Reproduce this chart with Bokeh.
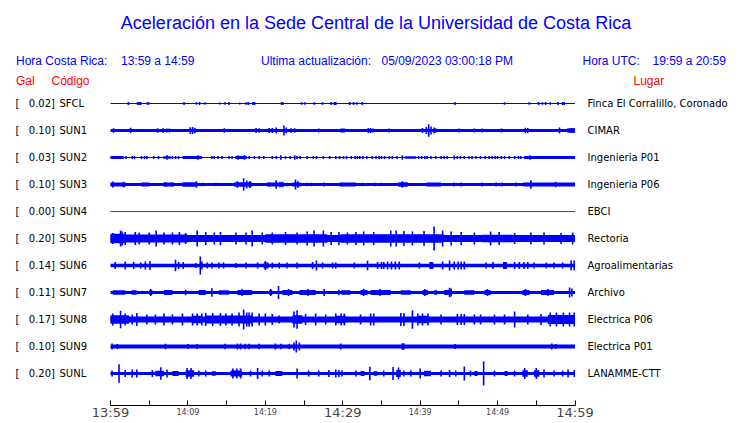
from bokeh.plotting import figure
from bokeh.models import Range1d, LinearAxis, FixedTicker, ColumnDataSource
from bokeh.core.properties import value
from bokeh.embed import file_html
from bokeh.resources import INLINE

# ------------------------------------------------------------------ data
codes = ["SFCL", "SUN1", "SUN2", "SUN3", "SUN4", "SUN5", "SUN6", "SUN7", "SUN8", "SUN9", "SUNL"]
places = ["Finca El Corralillo, Coronado", "CIMAR", "Ingenieria P01", "Ingenieria P06", "EBCI",
          "Rectoria", "Agroalimentarias", "Archivo", "Electrica P06", "Electrica P01", "LANAMME-CTT"]
gal_max = ["0.02", "0.10", "0.03", "0.10", "0.00", "0.20", "0.14", "0.11", "0.17", "0.10", "0.20"]

# minutes after 13:59 (local time)
tick_minutes = [0, 5, 10, 15, 20, 25, 30, 35, 40, 45, 50, 55, 60]
big_labels = {0: "13:59", 30: "14:29", 60: "14:59"}
small_labels = {10: "14:09", 20: "14:19", 40: "14:39", 50: "14:49"}

# relative amplitude of the continuous background noise of each trace
base_amp = [0.5, 1.6, 0.6, 1.4, 0.0, 3.5, 1.8, 1.5, 3.0, 2.0, 1.5]

# bursts: (start minute, end minute, half amplitude)
sfcl_bands = []
sun1_bands = [(29.7, 30.3, 2.0), (59.0, 60.0, 2.2)]
sun2_bands = [(0.0, 1.7, 1.4), (6.8, 7.8, 1.3), (9.3, 11.8, 1.4), (16.1, 17.6, 1.4), (38.0, 39.5, 1.3),
              (53.4, 60.0, 1.5)]
sun3_bands = [(0.0, 2.0, 2.0), (4.0, 5.0, 1.9), (6.8, 8.2, 1.9), (9.3, 11.2, 2.2), (16.0, 18.3, 2.2),
              (20.2, 22.4, 1.9), (23.5, 24.6, 2.0), (29.7, 31.7, 1.9), (37.2, 38.4, 2.2), (40.8, 42.7, 1.9),
              (53.3, 60.0, 2.0)]
sun4_bands = []
sun5_bands = [(0.0, 1.8, 4.8), (1.8, 10.0, 4.0), (20.0, 28.0, 4.2), (29.7, 43.0, 4.3), (48.0, 52.0, 3.8)]
sun6_bands = [(19.8, 20.4, 3.0), (41.2, 41.7, 3.5), (50.7, 51.2, 3.5)]
sun7_bands = [(0.3, 1.9, 2.3), (2.7, 3.4, 2.3), (5.0, 5.4, 2.5), (6.9, 8.0, 2.5), (11.4, 12.3, 2.5),
              (14.0, 15.3, 2.2), (16.4, 18.3, 2.5), (20.5, 20.9, 2.5), (22.2, 23.5, 2.5), (24.4, 26.5, 2.5),
              (29.8, 31.0, 2.3), (32.3, 33.2, 2.5), (33.6, 36.2, 2.5), (37.5, 38.8, 2.2), (40.3, 41.0, 2.5),
              (41.8, 42.2, 2.2), (43.1, 44.0, 2.5), (45.7, 47.0, 2.2), (48.3, 49.1, 2.5), (53.2, 54.1, 2.5),
              (55.6, 57.3, 2.5)]
sun8_bands = [(0.0, 2.4, 4.3), (10.6, 11.8, 3.8), (12.3, 18.3, 4.0), (23.5, 24.8, 4.3), (29.1, 30.4, 3.8),
              (39.7, 41.0, 3.8), (56.5, 60.0, 4.5)]
sun9_bands = []
sunl_bands = [(5.8, 6.9, 2.8), (8.0, 8.8, 2.4), (9.7, 10.8, 3.2), (13.1, 13.6, 2.3), (15.5, 17.0, 3.0),
              (21.3, 22.2, 2.4), (32.3, 32.8, 2.4), (34.0, 34.5, 2.3), (36.9, 37.5, 3.5), (40.5, 41.4, 2.8),
              (47.0, 47.4, 2.4), (50.9, 51.3, 2.4), (53.2, 53.9, 3.2), (54.7, 55.4, 3.2)]

# individual peaks: (minute, half amplitude)
sfcl_spikes = [(2.3, 1.5), (3.5, 1.5), (3.7, 1.5), (3.9, 1.5), (4.75, 1.2), (4.95, 1.2), (9.5, 1.5), (11.1, 1.2),
               (11.5, 1.5), (12.2, 1.2), (14.1, 1.0), (14.8, 1.2), (15.3, 1.5), (16.7, 1.0), (17.5, 1.2),
               (17.8, 1.5), (18.4, 1.5), (18.6, 1.5), (22.1, 1.5), (22.3, 1.2), (24.7, 1.2), (25.1, 1.2),
               (26.3, 1.2), (27.4, 1.2), (28.5, 1.5), (28.9, 1.5), (29.1, 1.5), (30.9, 1.5), (31.4, 1.5),
               (31.8, 1.2), (32.5, 1.5), (44.5, 1.5), (50.9, 1.2), (54.1, 1.2), (55.3, 1.5), (55.8, 1.2),
               (56.2, 1.5), (56.8, 1.2), (57.8, 1.5), (58.4, 1.5), (58.6, 1.5)]
sun1_spikes = [(0.4, 2.2), (2.6, 2.8), (6.1, 2.2), (6.8, 2.2), (7.3, 2.0), (7.6, 2.0), (10.3, 3.2), (10.6, 3.5),
               (10.9, 2.8), (14.7, 2.2), (18.8, 2.5), (19.2, 2.3), (20.5, 2.5), (20.9, 2.4), (21.4, 3.0),
               (22.4, 5.0), (22.7, 3.0), (23.3, 2.2), (23.8, 2.2), (26.9, 2.0), (33.3, 2.5), (33.6, 2.5),
               (33.9, 2.0), (36.0, 2.0), (40.3, 2.5), (40.8, 3.5), (41.1, 6.3), (41.4, 4.0), (41.8, 3.0),
               (42.0, 2.2), (45.0, 1.9), (47.0, 1.9), (48.0, 1.9), (50.5, 1.9), (53.6, 2.8), (53.9, 2.5),
               (58.0, 3.0), (59.5, 2.2), (59.8, 2.5)]
sun2_spikes = [(2.0, 1.4), (2.8, 1.4), (3.1, 1.4), (4.0, 1.4), (4.4, 1.4), (4.7, 1.4), (5.6, 1.4), (6.2, 1.4),
               (7.3, 2.3), (8.0, 1.4), (8.4, 1.4), (8.8, 1.4), (11.3, 2.3), (13.1, 1.4), (13.4, 1.4), (13.9, 1.4),
               (14.4, 1.4), (15.3, 1.4), (15.7, 1.4), (16.5, 2.3), (17.3, 2.3), (17.9, 1.4), (18.6, 1.4),
               (19.2, 1.4), (19.8, 1.4), (20.9, 1.4), (21.4, 1.4), (22.0, 2.3), (22.6, 1.4), (23.2, 1.4),
               (23.8, 2.3), (24.1, 1.4), (24.5, 1.4), (25.4, 1.4), (26.2, 1.4), (26.6, 1.4), (27.5, 1.4),
               (28.3, 1.4), (29.1, 1.4), (29.6, 1.4), (30.1, 1.4), (30.5, 1.4), (31.1, 1.4), (31.6, 1.4),
               (31.9, 1.4), (32.2, 1.4), (32.6, 1.4), (33.1, 1.4), (33.8, 1.4), (34.3, 1.4), (34.7, 1.4),
               (35.0, 1.4), (35.4, 1.4), (36.0, 1.4), (36.4, 1.4), (37.0, 1.4), (37.7, 2.3), (39.8, 1.4),
               (40.2, 1.4), (40.6, 1.4), (40.9, 1.4), (41.4, 1.4), (42.0, 1.4), (42.7, 1.4), (43.1, 1.4),
               (43.5, 1.4), (44.4, 2.0), (44.8, 1.4), (45.2, 1.4), (45.7, 1.4), (46.3, 1.4), (46.7, 1.4),
               (47.2, 1.4), (47.8, 1.4), (48.4, 1.4), (48.9, 1.4), (49.3, 1.4), (49.7, 1.4), (50.0, 1.4),
               (50.5, 1.4), (50.9, 1.4), (51.5, 1.4), (52.2, 1.4), (52.7, 1.4), (53.0, 1.4), (54.2, 2.2)]
sun3_spikes = [(0.3, 3.0), (1.7, 2.7), (7.1, 2.3), (8.0, 2.0), (11.1, 3.3), (11.9, 1.8), (13.6, 1.8), (16.4, 3.3),
               (17.2, 6.3), (17.6, 4.0), (18.0, 3.5), (20.5, 2.0), (21.4, 4.3), (21.9, 2.7), (22.2, 2.7),
               (22.8, 1.8), (23.9, 5.0), (24.2, 3.3), (25.4, 1.8), (25.9, 1.8), (27.6, 2.0), (29.7, 2.0),
               (32.5, 1.8), (34.2, 1.8), (35.0, 1.8), (37.7, 3.3), (44.4, 2.0), (45.3, 1.9), (48.0, 1.9),
               (49.8, 1.9), (50.6, 1.9), (52.4, 1.9), (54.3, 4.3), (57.5, 2.7)]
sun4_spikes = []
sun5_spikes = [(0.3, 5.5), (1.3, 8.0), (1.5, 7.0), (1.9, 6.5), (3.2, 6.5), (3.7, 6.0), (5.0, 6.0), (5.9, 8.0),
               (6.9, 6.0), (8.0, 6.0), (8.9, 6.5), (9.7, 5.5), (11.2, 8.0), (12.3, 6.5), (13.4, 6.0), (14.2, 6.5),
               (16.2, 6.0), (17.5, 6.0), (18.3, 8.0), (19.6, 6.0), (20.9, 6.0), (22.6, 6.5), (24.1, 6.0),
               (25.4, 7.0), (26.3, 8.0), (27.5, 8.0), (28.5, 6.5), (29.5, 6.5), (30.6, 6.0), (31.7, 6.5),
               (32.7, 7.0), (34.0, 6.5), (36.2, 8.0), (36.9, 8.0), (37.9, 7.5), (39.0, 7.0), (40.5, 7.5),
               (41.8, 12.0), (42.9, 8.0), (44.0, 7.0), (45.3, 6.5), (47.0, 6.0), (49.1, 7.0), (50.2, 6.5),
               (52.2, 5.5), (54.3, 6.0), (56.0, 6.0), (58.2, 5.5), (59.7, 6.0)]
sun6_spikes = [(0.6, 3.5), (1.9, 4.0), (3.0, 3.5), (3.9, 3.0), (4.5, 4.0), (5.1, 4.5), (8.4, 5.7), (8.8, 3.5),
               (9.4, 3.5), (11.0, 2.5), (11.6, 9.0), (11.8, 4.0), (12.5, 3.0), (13.1, 3.0), (14.0, 3.0),
               (14.6, 3.0), (16.2, 2.5), (17.5, 3.0), (19.0, 3.0), (20.0, 4.5), (20.9, 3.0), (21.8, 3.0),
               (22.8, 3.0), (24.1, 3.0), (26.1, 3.5), (26.6, 5.0), (27.4, 3.0), (28.7, 3.0), (29.1, 3.0),
               (31.5, 3.0), (33.2, 4.7), (34.5, 3.5), (35.0, 3.5), (35.3, 3.5), (35.8, 4.0), (36.3, 4.0),
               (36.8, 4.0), (37.3, 4.0), (39.9, 3.0), (42.9, 4.0), (43.8, 5.0), (44.4, 4.0), (44.9, 4.0),
               (45.3, 4.0), (45.7, 4.0), (48.5, 3.0), (49.4, 3.5), (52.2, 3.5), (52.8, 3.5), (53.4, 3.5),
               (53.9, 3.5), (54.7, 3.0), (56.3, 3.0), (57.3, 3.0), (58.4, 3.0), (59.5, 5.0), (59.9, 5.0)]
sun7_spikes = [(5.2, 3.5), (9.7, 2.7), (13.1, 4.3), (17.0, 3.5), (20.7, 3.5), (21.7, 6.5), (23.0, 3.5),
               (25.5, 3.5), (27.6, 3.5), (29.5, 2.7), (32.7, 3.5), (34.8, 3.5), (40.6, 3.5), (43.8, 4.7),
               (44.0, 4.0), (48.7, 3.5), (53.6, 3.5), (56.5, 3.5), (59.3, 5.0), (59.6, 4.0)]
sun8_spikes = [(0.3, 6.0), (1.3, 8.7), (1.9, 6.0), (2.8, 5.0), (3.4, 6.5), (4.7, 5.0), (5.8, 5.0), (6.9, 6.0),
               (8.0, 5.0), (9.3, 6.0), (10.6, 6.0), (11.2, 6.0), (11.8, 6.0), (12.3, 6.5), (13.2, 6.5),
               (14.2, 6.5), (14.9, 6.0), (15.7, 6.0), (16.6, 7.0), (17.2, 10.0), (17.6, 7.0), (17.9, 7.0),
               (18.3, 7.0), (19.2, 6.0), (20.0, 6.0), (20.9, 5.5), (21.8, 4.0), (23.7, 8.0), (24.1, 9.3),
               (25.2, 5.5), (26.5, 6.0), (27.8, 5.0), (29.1, 6.0), (29.8, 6.0), (30.2, 6.0), (32.3, 5.0),
               (33.6, 6.0), (34.0, 6.0), (37.5, 6.5), (37.9, 6.5), (39.0, 9.3), (39.7, 6.0), (40.3, 6.0),
               (41.0, 6.0), (42.7, 5.0), (44.8, 5.5), (45.3, 5.5), (45.7, 5.5), (47.0, 5.0), (47.8, 5.0),
               (49.6, 5.0), (50.9, 5.0), (52.2, 8.0), (53.9, 5.0), (55.6, 5.5), (56.8, 7.0), (57.6, 7.0),
               (58.5, 7.0), (59.3, 7.0), (59.9, 7.0)]
sun9_spikes = [(0.2, 3.0), (0.9, 2.5), (7.1, 2.8), (10.0, 2.5), (11.2, 2.5), (14.8, 2.8), (16.4, 3.0), (16.8, 3.0),
               (17.4, 2.8), (17.9, 2.8), (19.2, 2.8), (21.3, 3.0), (22.0, 2.8), (23.1, 2.8), (23.7, 4.0),
               (24.0, 6.0), (24.4, 4.0), (29.75, 3.0), (37.7, 3.2), (37.9, 3.2), (44.5, 2.5), (57.0, 3.0),
               (57.5, 2.5)]
sunl_spikes = [(0.2, 3.0), (1.1, 9.3), (1.9, 3.5), (2.8, 4.0), (3.4, 4.0), (5.4, 3.5), (6.5, 6.3), (7.3, 4.0),
               (9.9, 5.5), (10.4, 5.5), (11.4, 3.0), (12.3, 3.0), (15.8, 5.0), (16.3, 5.0), (16.8, 5.0),
               (18.1, 3.0), (19.0, 5.5), (19.6, 3.0), (20.5, 3.0), (24.1, 5.0), (25.6, 3.0), (26.9, 3.0),
               (28.2, 3.5), (29.1, 4.0), (29.5, 3.5), (29.9, 3.0), (31.7, 3.0), (33.5, 6.7), (35.3, 3.0),
               (36.5, 6.5), (37.2, 6.0), (37.9, 3.0), (38.8, 3.0), (40.0, 5.0), (42.7, 3.0), (43.8, 3.5),
               (44.6, 3.0), (45.7, 7.0), (46.5, 3.0), (48.2, 12.0), (49.6, 3.0), (52.2, 3.0), (53.5, 5.5),
               (55.0, 5.5), (56.0, 4.0), (57.3, 3.0), (58.4, 3.0), (59.1, 4.0), (59.9, 3.5)]

bands_all = [sfcl_bands, sun1_bands, sun2_bands, sun3_bands, sun4_bands, sun5_bands,
             sun6_bands, sun7_bands, sun8_bands, sun9_bands, sunl_bands]
spikes_all = [sfcl_spikes, sun1_spikes, sun2_spikes, sun3_spikes, sun4_spikes, sun5_spikes,
              sun6_spikes, sun7_spikes, sun8_spikes, sun9_spikes, sunl_spikes]

# ------------------------------------------------------------------ layout / style
W, H = 740, 423
BOTTOM = 18
FRAME_H = H - BOTTOM
PX_T0, PX_T1 = 110.0, 574.5          # pixel of first / last minute
T0, T1 = tick_minutes[0], tick_minutes[-1]
PPM = (PX_T1 - PX_T0) / (T1 - T0)
ROW0, ROW_STEP = 103.0, 27.0         # y of first trace (px from top), spacing
AMP_SCALE = 1.0                      # px per unit of relative amplitude

BLUE = "#0000ff"
RED = "#ff0000"
SANS = value("Liberation Sans")
DEJAVU = value("DejaVu Sans")


def fx(px):
    return T0 + (px - PX_T0) / PPM


p = figure(width=W, height=H, output_backend="svg", toolbar_location=None,
           x_range=Range1d(T0 - PX_T0 / PPM, T1 + (W - PX_T1) / PPM),
           y_range=Range1d(FRAME_H, 0),
           x_axis_type=None, y_axis_type=None,
           min_border_left=0, min_border_right=0, min_border_top=0, min_border_bottom=BOTTOM)
p.outline_line_color = None
p.xgrid.visible = False
p.ygrid.visible = False
p.background_fill_color = "white"
p.border_fill_color = "white"

# ------------------------------------------------------------------ traces
for i, code in enumerate(codes):
    yc = ROW0 + i * ROW_STEP
    if base_amp[i] <= 0:
        p.segment(x0=[T0], x1=[T1], y0=[yc], y1=[yc], line_color=RED, line_width=1)
    else:
        b = base_amp[i] * AMP_SCALE
        p.quad(left=[T0], right=[T1], top=[yc - b], bottom=[yc + b],
               fill_color=BLUE, line_color=None)
    if bands_all[i]:
        src = ColumnDataSource(dict(
            l=[b_[0] for b_ in bands_all[i]], r=[b_[1] for b_ in bands_all[i]],
            t=[yc - b_[2] * AMP_SCALE for b_ in bands_all[i]],
            b=[yc + b_[2] * AMP_SCALE for b_ in bands_all[i]]))
        p.quad(left="l", right="r", top="t", bottom="b", source=src,
               fill_color=BLUE, line_color=None)
    if spikes_all[i]:
        src = ColumnDataSource(dict(
            x=[s[0] for s in spikes_all[i]],
            y0=[yc - s[1] * AMP_SCALE for s in spikes_all[i]],
            y1=[yc + s[1] * AMP_SCALE for s in spikes_all[i]]))
        p.segment(x0="x", x1="x", y0="y0", y1="y1", source=src,
                  line_color=BLUE, line_width=1.6, line_cap="butt")

# ------------------------------------------------------------------ row labels
row_y = [ROW0 + i * ROW_STEP for i in range(len(codes))]
p.text(x=[fx(15)] * len(codes), y=row_y, text=["["] * len(codes),
       text_font=DEJAVU, text_font_size="10px", text_color="black",
       text_align="left", text_baseline="middle")
p.text(x=[fx(54.5)] * len(codes), y=row_y, text=[g + "]" for g in gal_max],
       text_font=DEJAVU, text_font_size="10px", text_color="black",
       text_align="right", text_baseline="middle")
p.text(x=[fx(59)] * len(codes), y=row_y, text=codes,
       text_font=DEJAVU, text_font_size="10px", text_color="black",
       text_align="left", text_baseline="middle")
p.text(x=[fx(587)] * len(codes), y=row_y, text=places,
       text_font=DEJAVU, text_font_size="10px", text_color="black",
       text_align="left", text_baseline="middle")

# ------------------------------------------------------------------ titles / headers
p.text(x=[fx(375.5)], y=[22], text=["Aceleración en la Sede Central de la Universidad de Costa Rica"],
       text_font=SANS, text_font_size="18px", text_color=BLUE,
       text_align="center", text_baseline="middle")
hdr_x = [15.5, 120.5, 260.5, 381, 582, 652]
hdr_t = ["Hora Costa Rica:", "13:59 a 14:59", "Ultima actualización:", "05/09/2023 03:00:18 PM",
         "Hora UTC:", "19:59 a 20:59"]
p.text(x=[fx(v) for v in hdr_x], y=[60] * len(hdr_x), text=hdr_t,
       text_font=SANS, text_font_size="12px", text_color=BLUE,
       text_align="left", text_baseline="middle")
p.text(x=[fx(15.5), fx(51), fx(633)], y=[80] * 3, text=["Gal", "Código", "Lugar"],
       text_font=SANS, text_font_size="12px", text_color=RED,
       text_align="left", text_baseline="middle")

# ------------------------------------------------------------------ time axis
# axis 1: line, ticks and the small hour labels
ax1 = LinearAxis(ticker=FixedTicker(ticks=tick_minutes), bounds=(T0, T1),
                 major_label_overrides={t: small_labels.get(t, "") for t in tick_minutes},
                 major_label_text_font="DejaVu Sans", major_label_text_font_size="8px",
                 major_label_standoff=2,
                 major_tick_in=5, major_tick_out=0, minor_tick_line_color=None,
                 axis_line_color="black", major_tick_line_color="black", axis_line_width=1)
p.add_layout(ax1, "below")
# axis 2: the large hour labels only, pulled up next to the first axis
ax2 = LinearAxis(ticker=FixedTicker(ticks=tick_minutes),
                 major_label_overrides={t: big_labels.get(t, "") for t in tick_minutes},
                 major_label_text_font="DejaVu Sans", major_label_text_font_size="13px",
                 major_label_standoff=-15,
                 major_tick_in=0, major_tick_out=0, minor_tick_line_color=None,
                 axis_line_color=None, major_tick_line_color=None)
p.add_layout(ax2, "below")

open("out.html", "w").write(file_html(p, INLINE))
